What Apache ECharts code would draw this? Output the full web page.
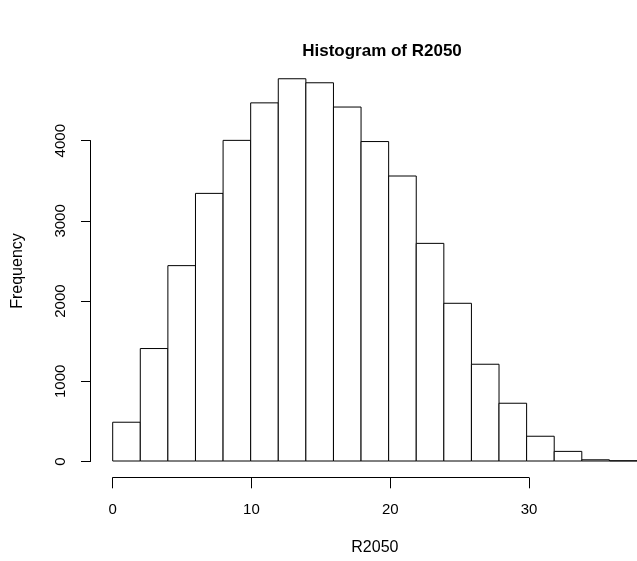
<!DOCTYPE html>
<html>
<head>
<meta charset="utf-8">
<script src="https://cdn.jsdelivr.net/npm/echarts@6/dist/echarts.min.js"></script>
<style>
html,body{margin:0;padding:0;background:#fff;}
#chart{width:637px;height:561px;}
</style>
</head>
<body>
<div id="chart"></div>
<script>
// Histogram data (bin edges and counts)
var binStarts = [0, 2, 4, 6, 8, 10, 12, 14, 16, 18, 20, 22, 24, 26, 28, 30, 32, 34, 36];
var binWidth = 2;
var counts = [484, 1404, 2439, 3341, 4003, 4471, 4772, 4722, 4419, 3988, 3558, 2717, 1969, 1208, 721, 309, 120, 15, 3];
var xTicks = [0, 10, 20, 30];
var yTicks = [0, 1000, 2000, 3000, 4000];
var titleText = 'Histogram of R2050';
var xLabel = 'R2050';
var yLabel = 'Frequency';

var FONT = '"Liberation Sans", Arial, Helvetica, sans-serif';
var chart = echarts.init(document.getElementById('chart'), null, {renderer: 'canvas'});

var barData = binStarts.map(function (s, i) { return [s, s + binWidth, counts[i]]; });

var option = {
  backgroundColor: '#ffffff',
  animation: false,
  title: {
    text: titleText,
    left: 377,
    top: 38,
    textAlign: 'center',
    textStyle: {fontFamily: FONT, fontWeight: 'bold', fontSize: 17, color: '#000'}
  },
  grid: [
    {left: 112.7, width: 527.1, top: 60.5, height: 401, containLabel: false},
    {left: 112.7, width: 416.3, top: 400, height: 77.7, containLabel: false},
    {left: 90.7, width: 10, top: 140.7, height: 320.8, containLabel: false}
  ],
  xAxis: [
    {
      gridIndex: 0, type: 'value', min: 0, max: 38,
      axisLine: {show: false}, axisTick: {show: false}, axisLabel: {show: false}, splitLine: {show: false},
      name: xLabel, nameLocation: 'middle', nameGap: 79,
      nameTextStyle: {fontFamily: FONT, fontSize: 16, color: '#000'}
    },
    {
      gridIndex: 1, type: 'value', min: xTicks[0], max: xTicks[xTicks.length - 1], interval: 10,
      axisLine: {show: true, lineStyle: {color: '#000', width: 1}},
      axisTick: {show: true, length: 10.6, lineStyle: {color: '#000', width: 1}},
      axisLabel: {show: true, margin: 25, fontFamily: FONT, fontSize: 15, color: '#000'},
      splitLine: {show: false}
    },
    {gridIndex: 2, type: 'value', show: false}
  ],
  yAxis: [
    {
      gridIndex: 0, type: 'value', min: 0, max: 5000,
      axisLine: {show: false}, axisTick: {show: false}, axisLabel: {show: false}, splitLine: {show: false}
    },
    {gridIndex: 1, type: 'value', show: false},
    {
      gridIndex: 2, type: 'value', min: yTicks[0], max: yTicks[yTicks.length - 1], interval: 1000, position: 'left',
      axisLine: {show: true, lineStyle: {color: '#000', width: 1}},
      axisTick: {show: true, length: 9.7, lineStyle: {color: '#000', width: 1}},
      axisLabel: {show: true, rotate: 90, margin: 22, fontFamily: FONT, fontSize: 15, color: '#000',
        formatter: function (v) { return String(v); }},
      splitLine: {show: false}
    }
  ],
  graphic: [
    {
      type: 'text',
      x: 18, y: 271,
      rotation: Math.PI / 2,
      style: {text: yLabel, fontFamily: FONT, fontSize: 16, fill: '#000', textAlign: 'center', textVerticalAlign: 'middle'}
    }
  ],
  series: [
    {
      type: 'custom',
      xAxisIndex: 0, yAxisIndex: 0,
      data: barData,
      clip: false,
      renderItem: function (params, api) {
        var p0 = api.coord([api.value(0), api.value(2)]);
        var p1 = api.coord([api.value(1), 0]);
        return {
          type: 'rect',
          shape: {x: p0[0], y: p0[1], width: p1[0] - p0[0], height: p1[1] - p0[1]},
          style: {fill: '#ffffff', stroke: '#000000', lineWidth: 1}
        };
      }
    }
  ]
};
chart.setOption(option);
</script>
</body>
</html>
